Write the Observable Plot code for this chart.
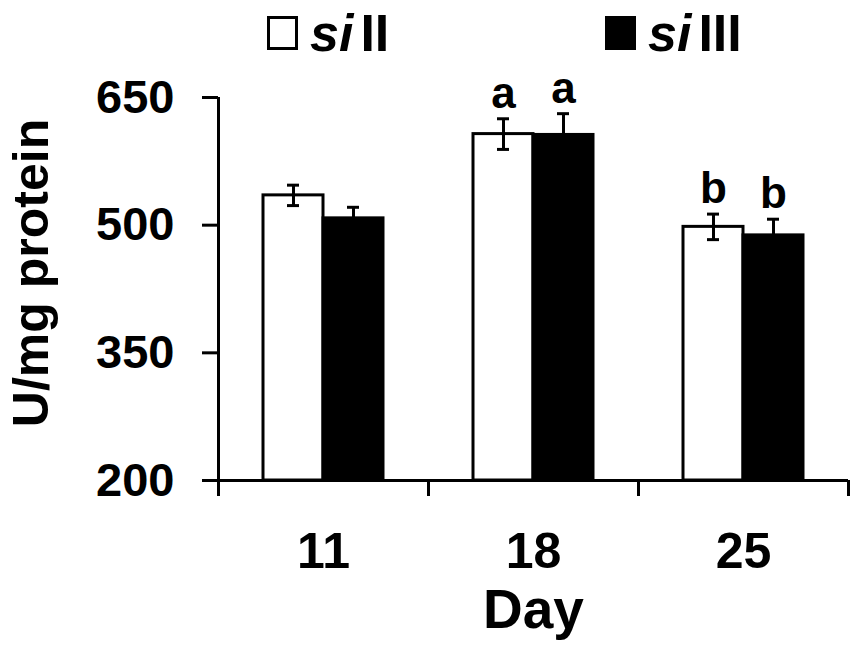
<!DOCTYPE html>
<html>
<head>
<meta charset="utf-8">
<script src="https://cdn.jsdelivr.net/npm/d3@7"></script>
<script src="https://cdn.jsdelivr.net/npm/@observablehq/plot@0.6"></script>
<style>
  html, body { margin: 0; padding: 0; background: #fff; }
  body { width: 860px; height: 652px; overflow: hidden; font-family: "Liberation Sans", Arial, sans-serif; position: relative; }
  #legend { position: absolute; left: 0; top: 0; height: 70px; width: 860px; z-index: 2; }
  #chart { position: absolute; left: 0; top: 0; }
  .item { position: absolute; top: -2px; height: 70px; display: flex; align-items: center; font-size: 52px; font-weight: bold; line-height: 1; }
  .sw { width: 25px; height: 28px; border: 3px solid #000; margin-right: 12px; box-sizing: content-box; }
  .item i { font-style: italic; }
  .item .nm { margin-left: 7px; }
</style>
</head>
<body>
<div id="chart"></div>
<div id="legend"></div>
<script>
const days = ["11", "18", "25"];
const seriesNames = ["II", "III"];
const seriesFill = ["white", "black"];
const valuesII = [535, 607, 498];
const valuesIII = [508, 606, 488];
const errII = [12, 18, 15];
const errIII = [13, 25, 19];
const lettersII = ["", "a", "b"];
const lettersIII = ["", "a", "b"];
const yTicks = [200, 350, 500, 650];

const rowsII = days.map((d, i) => ({day: d, series: "II", value: valuesII[i], err: errII[i], letter: lettersII[i]}));
const rowsIII = days.map((d, i) => ({day: d, series: "III", value: valuesIII[i], err: errIII[i], letter: lettersIII[i]}));

// Legend (HTML, above the plot area)
const legend = document.getElementById("legend");
const legendLeft = [267, 605];
seriesNames.forEach((s, k) => {
  const it = document.createElement("div");
  it.className = "item";
  it.style.left = legendLeft[k] + "px";
  const sw = document.createElement("span");
  sw.className = "sw";
  sw.style.background = seriesFill[k];
  it.appendChild(sw);
  const t = document.createElement("span");
  t.innerHTML = "<i>si</i><span class=\"nm\">" + s + "</span>";
  it.appendChild(t);
  legend.appendChild(it);
});

const bold = {fontWeight: "bold"};
const chart = Plot.plot({
  width: 860,
  height: 652,
  marginLeft: 218,
  marginRight: 12,
  marginTop: 97,
  marginBottom: 172,
  style: {fontFamily: "Liberation Sans, Arial, sans-serif", color: "black", background: "white"},
  x: {domain: days, padding: 0},
  y: {domain: [200, 650]},
  marks: [
    // bars
    Plot.barY(rowsII, {x: "day", y1: 200, y2: "value", fill: "white", stroke: "black", strokeWidth: 3, insetLeft: 45, insetRight: 105}),
    Plot.barY(rowsIII, {x: "day", y1: 200, y2: "value", fill: "black", stroke: "black", strokeWidth: 3, insetLeft: 105, insetRight: 45}),
    // error bars
    Plot.ruleX(rowsII, {x: "day", y1: d => d.value + d.err, y2: d => d.value - d.err, dx: -30, strokeWidth: 3}),
    Plot.ruleX(rowsIII, {x: "day", y1: d => d.value + d.err, y2: d => d.value - d.err, dx: 30, strokeWidth: 3, stroke: "black"}),
    Plot.tickY(rowsII, {x: "day", y: d => d.value + d.err, insetLeft: 69, insetRight: 129, strokeWidth: 3}),
    Plot.tickY(rowsII, {x: "day", y: d => d.value - d.err, insetLeft: 69, insetRight: 129, strokeWidth: 3}),
    Plot.tickY(rowsIII, {x: "day", y: d => d.value + d.err, insetLeft: 129, insetRight: 69, strokeWidth: 3}),
    // significance letters
    Plot.text(rowsII, {x: "day", y: d => d.value + d.err, text: "letter", dx: -30, dy: -11, lineAnchor: "bottom", fontSize: 44, ...bold}),
    Plot.text(rowsIII, {x: "day", y: d => d.value + d.err, text: "letter", dx: 30, dy: -11, lineAnchor: "bottom", fontSize: 44, ...bold}),
    // axes lines
    Plot.ruleY([200], {insetLeft: -16, strokeWidth: 3}),
    Plot.ruleX([days[0]], {x: d => d, dx: -105, y1: 650, y2: 200, insetBottom: -16, strokeWidth: 3}),
    Plot.ruleX(days, {x: d => d, dx: -105, y1: 200, y2: 200, insetBottom: -16, strokeWidth: 3}),
    Plot.ruleX([days[days.length - 1]], {x: d => d, dx: 105, y1: 200, y2: 200, insetBottom: -16, strokeWidth: 3}),
    Plot.axisY({ticks: yTicks, tickSize: 16, tickPadding: 28, fontSize: 47, strokeWidth: 3, label: null, ...bold}),
    Plot.axisX({tickSize: 0, tickPadding: 52, fontSize: 50, label: null, ...bold}),
    // axis titles
    Plot.text(["Day"], {text: d => d, frameAnchor: "bottom", lineAnchor: "top", dy: 108, fontSize: 55, ...bold}),
    Plot.text(["U/mg protein"], {text: d => d, frameAnchor: "left", rotate: -90, dx: -187, dy: -16, fontSize: 50, textAnchor: "middle", lineAnchor: "middle", ...bold})
  ]
});
document.getElementById("chart").appendChild(chart);
</script>
</body>
</html>
